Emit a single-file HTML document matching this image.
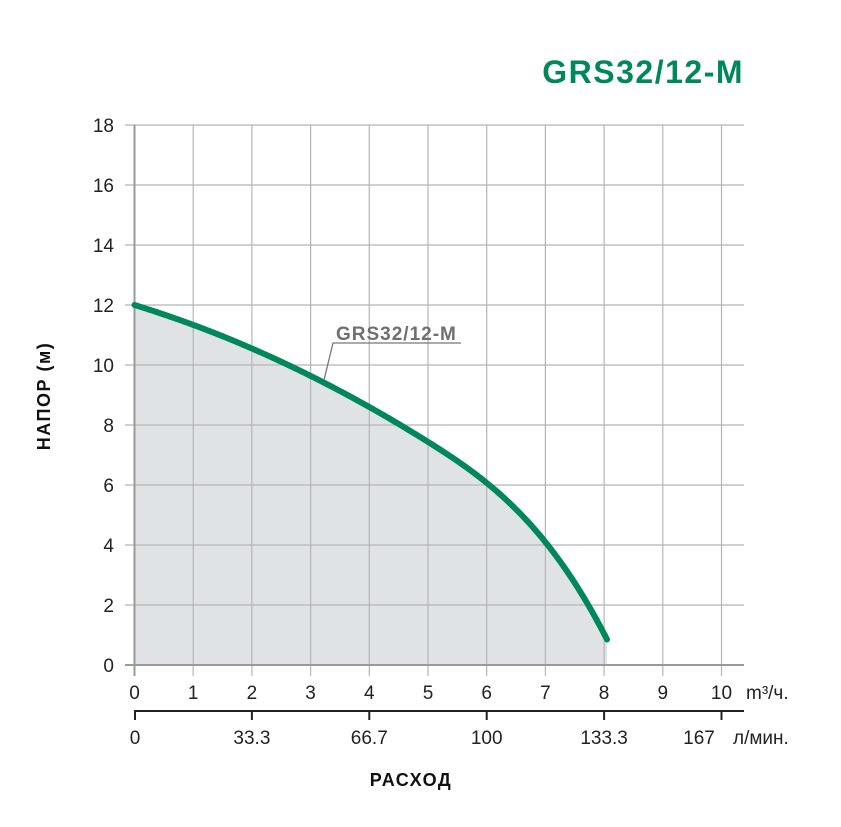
<!DOCTYPE html>
<html><head><meta charset="utf-8"><style>
html,body{margin:0;padding:0;background:#fff;}
svg{display:block;font-family:"Liberation Sans",sans-serif;}
</style></head><body>
<svg id="s" width="841" height="827" viewBox="0 0 841 827" xmlns="http://www.w3.org/2000/svg">
<text x="744" y="83" text-anchor="end" font-size="32" font-weight="bold" fill="#00875a" letter-spacing="1.5">GRS32/12-M</text>
<path id="fill" fill="#dfe3e6" d=""/>
<g id="grid" stroke="#b5b5b5" stroke-width="1.2"></g>
<g id="ylab" font-size="19" fill="#222" text-anchor="end"></g>
<g id="xlab" font-size="19" fill="#222" text-anchor="middle"></g>
<line x1="125" y1="665" x2="744" y2="665" stroke="#999" stroke-width="2"/>
<line x1="134.5" y1="125" x2="134.5" y2="676" stroke="#999" stroke-width="2"/>
<line x1="134" y1="711" x2="744" y2="711" stroke="#222" stroke-width="2"/>
<g stroke="#222" stroke-width="2">
<line x1="135" y1="711" x2="135" y2="720"/><line x1="251.9" y1="711" x2="251.9" y2="720"/>
<line x1="369.3" y1="711" x2="369.3" y2="720"/><line x1="486.7" y1="711" x2="486.7" y2="720"/>
<line x1="604.1" y1="711" x2="604.1" y2="720"/><line x1="721.5" y1="711" x2="721.5" y2="720"/>
</g>
<g font-size="19" fill="#222" text-anchor="middle">
<text x="135" y="744">0</text><text x="251.9" y="744">33.3</text><text x="369.3" y="744">66.7</text>
<text x="486.7" y="744">100</text><text x="604.1" y="744">133.3</text><text x="699" y="744">167</text>
</g>
<text x="733" y="744" font-size="19" fill="#222">л/мин.</text>
<text x="746" y="699" font-size="19" fill="#222">m³/ч.</text>
<text x="411" y="786" font-size="18" font-weight="bold" fill="#111" text-anchor="middle" letter-spacing="1.5">РАСХОД</text>
<text transform="translate(50,396) rotate(-90)" font-size="18" font-weight="bold" fill="#111" text-anchor="middle" letter-spacing="1.5">НАПОР (м)</text>
<path id="curve" fill="none" stroke="#00875a" stroke-width="6" stroke-linecap="round" stroke-linejoin="round" d=""/>
<polyline points="324,380 333,343 461,343" fill="none" stroke="#777" stroke-width="1.3"/>
<text x="336" y="340" font-size="19" font-weight="bold" fill="#6f6f6f" letter-spacing="1">GRS32/12-M</text>
</svg>
<script>
var ns="http://www.w3.org/2000/svg";
var g=document.getElementById('grid'),yl=document.getElementById('ylab'),xl=document.getElementById('xlab');
function el(p,t,a,txt){var e=document.createElementNS(ns,t);for(var k in a)e.setAttribute(k,a[k]);if(txt!==undefined)e.textContent=txt;p.appendChild(e);}
for(var i=0;i<=9;i++){var y=665-60*i;if(i>0)el(g,'line',{x1:125,y1:y,x2:744,y2:y});el(yl,'text',{x:114,y:y+7},String(2*i));}
for(var j=0;j<=10;j++){var x=134.5+58.7*j;if(j>0)el(g,'line',{x1:x,y1:125,x2:x,y2:676});el(xl,'text',{x:x,y:699},String(j));}
function h(q){var d=0.6*q+0.0625*q*q;if(q>5)d+=0.08*Math.pow(q-5,3);return 12-d;}
var d="";
for(var n=0;n<=161;n++){var q=8.05*n/161;var X=134.5+58.7*q,Y=665-30*h(q);d+=(n?" L":"M")+X.toFixed(2)+","+Y.toFixed(2);}
document.getElementById('curve').setAttribute('d',d);
document.getElementById('fill').setAttribute('d',d+" L607,665 L134.5,665 Z");
</script>
</body></html>
